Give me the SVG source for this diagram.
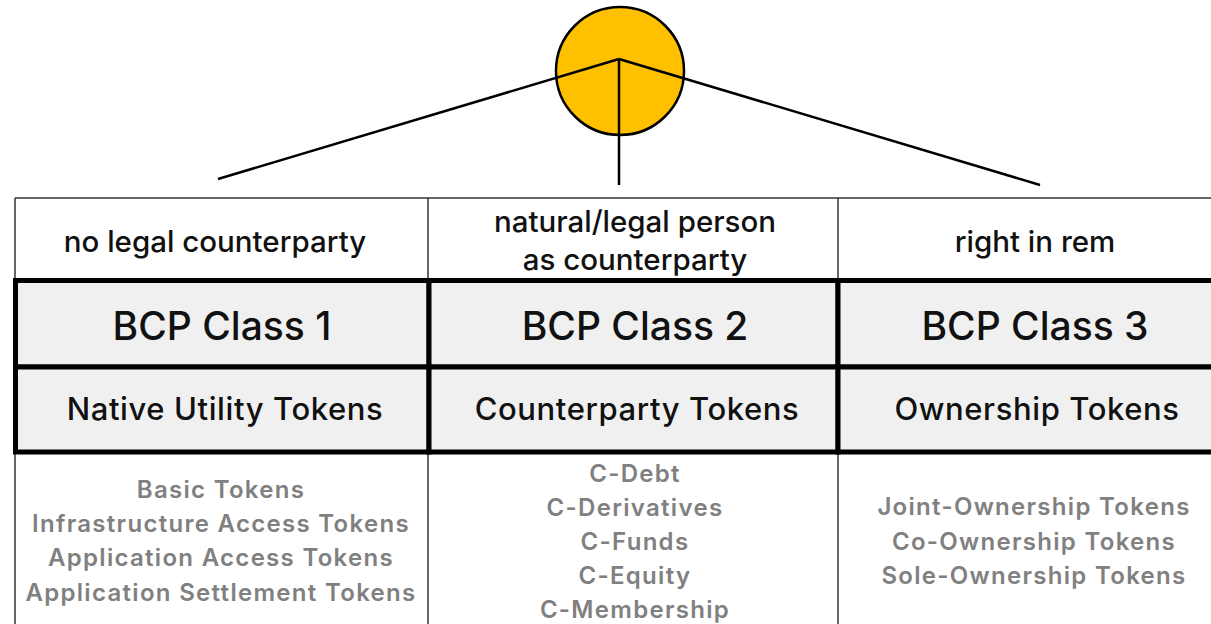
<svg xmlns="http://www.w3.org/2000/svg" width="1211" height="624" viewBox="0 0 1211 624">
  <style>
    .thin { stroke: #333; stroke-width: 1.5; fill: none; }
    .thick { stroke: #000; stroke-width: 5; fill: #f0f0f0; }
    .link { stroke: #000; stroke-width: 2.5; fill: none; }
    .head { font-family: Inter, "Open Sans", sans-serif; font-size: 29.5px; font-weight: 500; fill: #111; text-anchor: middle; }
    .cls { font-family: Inter, "Open Sans", sans-serif; font-size: 39px; font-weight: 500; fill: #111; text-anchor: middle; }
    .kind { font-family: Inter, "Open Sans", sans-serif; font-size: 31px; font-weight: 500; letter-spacing: 0.6px; fill: #111; text-anchor: middle; }
    .item { font-family: Inter, "Open Sans", sans-serif; font-size: 24px; font-weight: 600; letter-spacing: 1.3px; fill: #808080; text-anchor: middle; }
  </style>

  <rect width="1211" height="624" fill="#fff"/>

  <!-- root circle -->
  <g id="root">
    <circle cx="620" cy="71" r="64" fill="#ffc000" stroke="#000" stroke-width="2.5"/>
  </g>

  <!-- branches from the circle to the three columns -->
  <g id="connectors">
    <line class="link" x1="619" y1="59" x2="218" y2="179"/>
    <line class="link" x1="619" y1="59" x2="619" y2="185"/>
    <line class="link" x1="619" y1="59" x2="1040" y2="185"/>
  </g>

  <!-- table grid: thin frame -->
  <g id="grid">
    <line class="thin" x1="15" y1="198" x2="1211" y2="198"/>
    <line class="thin" x1="15" y1="198" x2="15" y2="624"/>
    <line class="thin" x1="428" y1="198" x2="428" y2="624"/>
    <line class="thin" x1="838" y1="198" x2="838" y2="624"/>
  </g>

  <!-- column 1 -->
  <g id="class1">
    <text class="head" x="215" y="252">no legal counterparty</text>
    <rect class="thick" x="15.5" y="280.5" width="413.5" height="86.5"/>
    <rect class="thick" x="15.5" y="367" width="413.5" height="85"/>
    <text class="cls" x="222" y="340">BCP Class 1</text>
    <text class="kind" x="225" y="420">Native Utility Tokens</text>
    <text class="item" x="221" y="498">Basic Tokens</text>
    <text class="item" x="221" y="532">Infrastructure Access Tokens</text>
    <text class="item" x="221" y="566">Application Access Tokens</text>
    <text class="item" x="221" y="601">Application Settlement Tokens</text>
  </g>

  <!-- column 2 -->
  <g id="class2">
    <text class="head" x="635" y="232">natural/legal person</text>
    <text class="head" x="635" y="270">as counterparty</text>
    <rect class="thick" x="429" y="280.5" width="409" height="86.5"/>
    <rect class="thick" x="429" y="367" width="409" height="85"/>
    <text class="cls" x="635" y="340">BCP Class 2</text>
    <text class="kind" x="637" y="420">Counterparty Tokens</text>
    <text class="item" x="635" y="482">C-Debt</text>
    <text class="item" x="635" y="516">C-Derivatives</text>
    <text class="item" x="635" y="550">C-Funds</text>
    <text class="item" x="635" y="584">C-Equity</text>
    <text class="item" x="635" y="618">C-Membership</text>
  </g>

  <!-- column 3 -->
  <g id="class3">
    <text class="head" x="1035" y="252">right in rem</text>
    <rect class="thick" x="838" y="280.5" width="380" height="86.5"/>
    <rect class="thick" x="838" y="367" width="380" height="85"/>
    <text class="cls" x="1035" y="340">BCP Class 3</text>
    <text class="kind" x="1037" y="420">Ownership Tokens</text>
    <text class="item" x="1034" y="515">Joint-Ownership Tokens</text>
    <text class="item" x="1034" y="550">Co-Ownership Tokens</text>
    <text class="item" x="1034" y="584">Sole-Ownership Tokens</text>
  </g>
</svg>
